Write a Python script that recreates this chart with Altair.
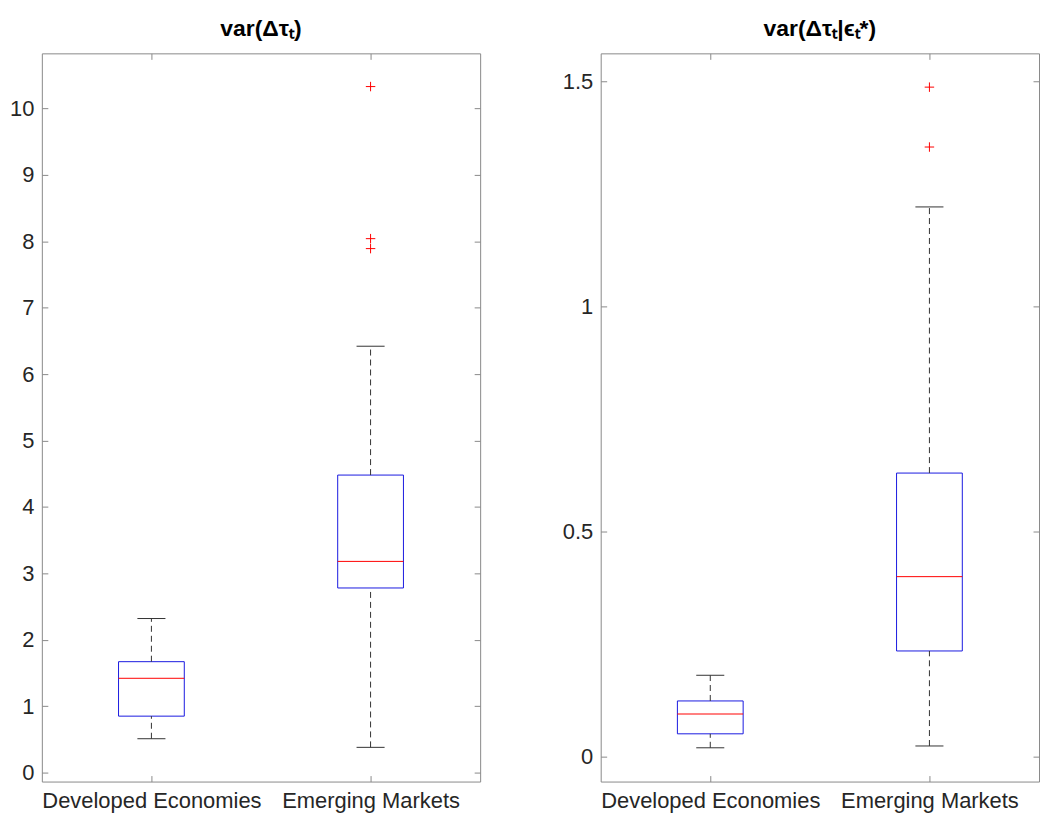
import altair as alt
import pandas as pd

groups = ["Developed Economies", "Emerging Markets"]
positions = [1, 2]

# Panel 1: var(Δτ_t)
p1_low = [0.51, 0.38]
p1_q1 = [0.85, 2.78]
p1_med = [1.42, 3.18]
p1_q3 = [1.67, 4.48]
p1_high = [2.32, 6.42]
p1_out_pos = [2, 2, 2]
p1_out_vals = [7.89, 8.04, 10.33]
p1_ticks = [0, 1, 2, 3, 4, 5, 6, 7, 8, 9, 10]

# Panel 2: var(Δτ_t | ε*_t)
p2_low = [0.02, 0.024]
p2_q1 = [0.051, 0.235]
p2_med = [0.095, 0.40]
p2_q3 = [0.124, 0.63]
p2_high = [0.181, 1.221]
p2_out_pos = [2, 2]
p2_out_vals = [1.354, 1.487]
p2_ticks = [0, 0.5, 1, 1.5]

FONT = "Liberation Sans"
AXC = "#8a8a8a"
LBL = "#262626"
label_expr = f"datum.value == 1 ? '{groups[0]}' : '{groups[1]}'"


def panel(title, low, q1, med, q3, high, out_pos, out_vals, ydomain, yticks):
    df = pd.DataFrame({"group": groups, "pos": positions, "low": low, "q1": q1,
                       "med": med, "q3": q3, "high": high})
    odf = pd.DataFrame({"pos": out_pos, "val": out_vals})
    xsc = alt.Scale(domain=[0.5, 2.5], nice=False, zero=False)
    ysc = alt.Scale(domain=ydomain, nice=False, zero=False)
    base = alt.Chart(df).transform_calculate(
        xl="datum.pos - 0.15", xr="datum.pos + 0.15",
        cl="datum.pos - 0.064", cr="datum.pos + 0.064")

    ax_left = alt.Axis(values=yticks, orient="left", offset=-6, tickSize=6, domain=False,
                       grid=False, title=None, labelPadding=8, labelFontSize=22,
                       labelFont=FONT, labelColor=LBL, tickColor=AXC,
                       labelExpr="'' + datum.value")
    ax_right = alt.Axis(values=yticks, orient="right", offset=-6, tickSize=6, domain=False,
                        grid=False, title=None, labels=False, tickColor=AXC)
    ax_bottom = alt.Axis(values=[1, 2], orient="bottom", offset=-6, tickSize=6, domain=False,
                         grid=False, title=None, labelPadding=9, labelFontSize=22,
                         labelFont=FONT, labelColor=LBL, tickColor=AXC, labelExpr=label_expr,
                         labelLimit=400)
    ax_top = alt.Axis(values=[1, 2], orient="top", offset=-6, tickSize=6, domain=False,
                      grid=False, title=None, labels=False, tickColor=AXC)

    box = base.mark_rect(fillOpacity=0, stroke="#1a1ae0", strokeWidth=1).encode(
        x=alt.X("xl:Q", scale=xsc, axis=ax_bottom), x2="xr:Q",
        y=alt.Y("q1:Q", scale=ysc, axis=ax_left), y2="q3:Q")
    median = base.mark_rule(color="#ff0000", strokeWidth=1).encode(
        x=alt.X("xl:Q", scale=xsc, axis=ax_top), x2="xr:Q",
        y=alt.Y("med:Q", scale=ysc, axis=ax_right))
    wh_up = base.mark_rule(color="#333333", strokeWidth=1, strokeDash=[6, 4]).encode(
        x=alt.X("pos:Q", scale=xsc, axis=None),
        y=alt.Y("q3:Q", scale=ysc, axis=None), y2="high:Q")
    wh_dn = base.mark_rule(color="#333333", strokeWidth=1, strokeDash=[6, 4]).encode(
        x=alt.X("pos:Q", scale=xsc, axis=None),
        y=alt.Y("low:Q", scale=ysc, axis=None), y2="q1:Q")
    cap_up = base.mark_rule(color="#333333", strokeWidth=1).encode(
        x=alt.X("cl:Q", scale=xsc, axis=None), x2="cr:Q",
        y=alt.Y("high:Q", scale=ysc, axis=None))
    cap_dn = base.mark_rule(color="#333333", strokeWidth=1).encode(
        x=alt.X("cl:Q", scale=xsc, axis=None), x2="cr:Q",
        y=alt.Y("low:Q", scale=ysc, axis=None))
    outl = alt.Chart(odf).mark_point(shape="M-1,0L1,0M0,-1L0,1", filled=False,
                                     color="#ff0000", size=90, strokeWidth=1, opacity=1).encode(
        x=alt.X("pos:Q", scale=xsc, axis=None),
        y=alt.Y("val:Q", scale=ysc, axis=None))

    return alt.layer(box, median, wh_up, wh_dn, cap_up, cap_dn, outl).resolve_axis(
        x="independent", y="independent").properties(
        width=440, height=731, title=title)


left = panel("var(Δτₜ)", p1_low, p1_q1, p1_med, p1_q3, p1_high, p1_out_pos, p1_out_vals,
             [-0.135, 10.83], p1_ticks)
right = panel("var(Δτₜ|ϵₜ*)", p2_low, p2_q1, p2_med, p2_q3, p2_high, p2_out_pos, p2_out_vals,
              [-0.055, 1.562], p2_ticks)

chart = alt.hconcat(left, right, spacing=80).properties(
    padding={"left": 9, "top": 16, "right": 0, "bottom": 0},
    background="#ffffff"
).configure_view(stroke=AXC, strokeWidth=1).configure_title(
    fontSize=23, font=FONT, fontWeight="bold", color="#000000", offset=12, anchor="middle")

chart.save("out.html", embed_options={"renderer": "svg", "actions": False})
